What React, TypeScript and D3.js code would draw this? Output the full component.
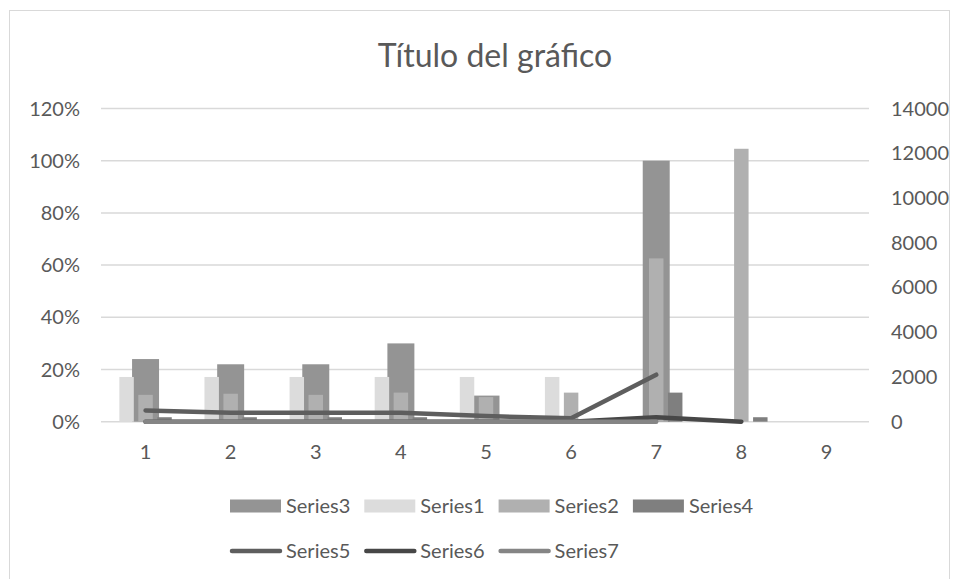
import React from "react";
import * as d3 from "d3";

const categories = ["1", "2", "3", "4", "5", "6", "7", "8", "9"];

// primary (left, %) bar series
const series3 = [0.24, 0.22, 0.22, 0.3, 0.1, 0, 1.0, 0, 0];
// secondary (right) bar series
const series1 = [2000, 2000, 2000, 2000, 2000, 2000, 0, 0, 0];
const series2 = [1200, 1250, 1200, 1300, 1100, 1300, 7300, 12200, 0];
const series4 = [200, 200, 200, 200, 0, 0, 1300, 200, 0];
// line series (right axis)
const series5: (number | null)[] = [500, 400, 400, 400, 250, 150, 2100, null, null];
const series6: (number | null)[] = [0, 0, 0, 0, 0, 0, 200, 0, null];
const series7: (number | null)[] = [0, 0, 0, 0, 0, 0, 0, null, null];

const leftTicks = [0, 0.2, 0.4, 0.6, 0.8, 1.0, 1.2];
const rightTicks = [0, 2000, 4000, 6000, 8000, 10000, 12000, 14000];

const W = 956;
const H = 579;
const PLOT = { left: 103, right: 869, top: 108.5, bottom: 421.7 };
const FONT = "Lato, 'Open Sans', sans-serif";
const TEXT = "#595959";
const GRID = "#d9d9d9";
const FS = 20;

const COLORS = {
  s3: "#949494",
  s1: "#dcdcdc",
  s2: "#b0b0b0",
  s4: "#7f7f7f",
  s5: "#5e5e5e",
  s6: "#474747",
  s7: "#858585",
};

export default function App() {
  const x = d3
    .scaleBand<string>()
    .domain(categories)
    .range([PLOT.left, PLOT.right])
    .padding(0);
  const band = x.bandwidth();

  const yL = d3.scaleLinear().domain([0, 1.2]).range([PLOT.bottom, PLOT.top]);
  const yR = d3.scaleLinear().domain([0, 14000]).range([PLOT.bottom, PLOT.top]);

  const cx = (c: string) => (x(c) as number) + band / 2;

  // bar geometry
  const primW = band * 0.317;
  const secW = band * 0.17;
  const secStep = band * 0.223;

  const secondary = [
    { name: "Series1", data: series1, color: COLORS.s1 },
    { name: "Series2", data: series2, color: COLORS.s2 },
    { name: "Series4", data: series4, color: COLORS.s4 },
  ];

  const lines = [
    { name: "Series5", data: series5, color: COLORS.s5 },
    { name: "Series6", data: series6, color: COLORS.s6 },
    { name: "Series7", data: series7, color: COLORS.s7 },
  ];

  const lineGen = d3
    .line<[string, number | null]>()
    .defined((d) => d[1] != null)
    .x((d) => cx(d[0]))
    .y((d) => yR(d[1] as number));

  const legendRow1 = [
    { name: "Series3", color: COLORS.s3 },
    { name: "Series1", color: COLORS.s1 },
    { name: "Series2", color: COLORS.s2 },
    { name: "Series4", color: COLORS.s4 },
  ];
  const legendX0 = 230;
  const legendStep = 134.3;

  return (
    <svg
      width={W}
      height={H}
      style={{ position: "absolute", left: 0, top: 0, background: "#fff" }}
      fontFamily={FONT}
    >
      <rect x={9.5} y={10.5} width={940} height={620} fill="#fff" stroke={GRID} />

      <text x={495} y={67} textAnchor="middle" fontSize={32} fill={TEXT}>
        Título del gráfico
      </text>

      {/* gridlines */}
      {leftTicks.map((t) => (
        <line
          key={"g" + t}
          x1={PLOT.left - 2}
          x2={PLOT.right}
          y1={yL(t)}
          y2={yL(t)}
          stroke={GRID}
          strokeWidth={1.5}
        />
      ))}

      {/* left axis labels */}
      {leftTicks.map((t) => (
        <text
          key={"l" + t}
          x={80}
          y={yL(t)}
          dy="0.35em"
          textAnchor="end"
          fontSize={FS}
          fill={TEXT}
        >
          {d3.format(".0%")(t)}
        </text>
      ))}

      {/* right axis labels */}
      {rightTicks.map((t) => (
        <text
          key={"r" + t}
          x={891}
          y={yR(t)}
          dy="0.35em"
          textAnchor="start"
          fontSize={FS}
          fill={TEXT}
        >
          {t}
        </text>
      ))}

      {/* category labels */}
      {categories.map((c) => (
        <text
          key={"c" + c}
          x={cx(c)}
          y={452}
          dy="0.35em"
          textAnchor="middle"
          fontSize={FS}
          fill={TEXT}
        >
          {c}
        </text>
      ))}

      {/* primary bars */}
      {categories.map((c, i) =>
        series3[i] > 0 ? (
          <rect
            key={"s3" + c}
            x={cx(c) - primW / 2}
            y={yL(series3[i])}
            width={primW}
            height={yL(0) - yL(series3[i])}
            fill={COLORS.s3}
          />
        ) : null,
      )}

      {/* secondary bars */}
      {secondary.map((s, k) =>
        categories.map((c, i) =>
          s.data[i] > 0 ? (
            <rect
              key={s.name + c}
              x={cx(c) + (k - 1) * secStep - secW / 2}
              y={yR(s.data[i])}
              width={secW}
              height={yR(0) - yR(s.data[i])}
              fill={s.color}
            />
          ) : null,
        ),
      )}

      {/* lines */}
      {lines.map((s) => (
        <path
          key={s.name}
          d={lineGen(categories.map((c, i) => [c, s.data[i]]))!}
          fill="none"
          stroke={s.color}
          strokeWidth={4.5}
          strokeLinecap="round"
          strokeLinejoin="round"
        />
      ))}

      {/* legend */}
      {legendRow1.map((l, i) => (
        <g key={l.name} transform={`translate(${legendX0 + i * legendStep},0)`}>
          <rect x={0} y={499.5} width={51} height={13} fill={l.color} />
          <text x={56} y={506} dy="0.35em" fontSize={FS} fill={TEXT}>
            {l.name}
          </text>
        </g>
      ))}
      {lines.map((l, i) => (
        <g key={"lg" + l.name} transform={`translate(${legendX0 + i * legendStep},0)`}>
          <line
            x1={2}
            x2={50}
            y1={551}
            y2={551}
            stroke={l.color}
            strokeWidth={4.5}
            strokeLinecap="round"
          />
          <text x={56} y={551} dy="0.35em" fontSize={FS} fill={TEXT}>
            {l.name}
          </text>
        </g>
      ))}
    </svg>
  );
}
